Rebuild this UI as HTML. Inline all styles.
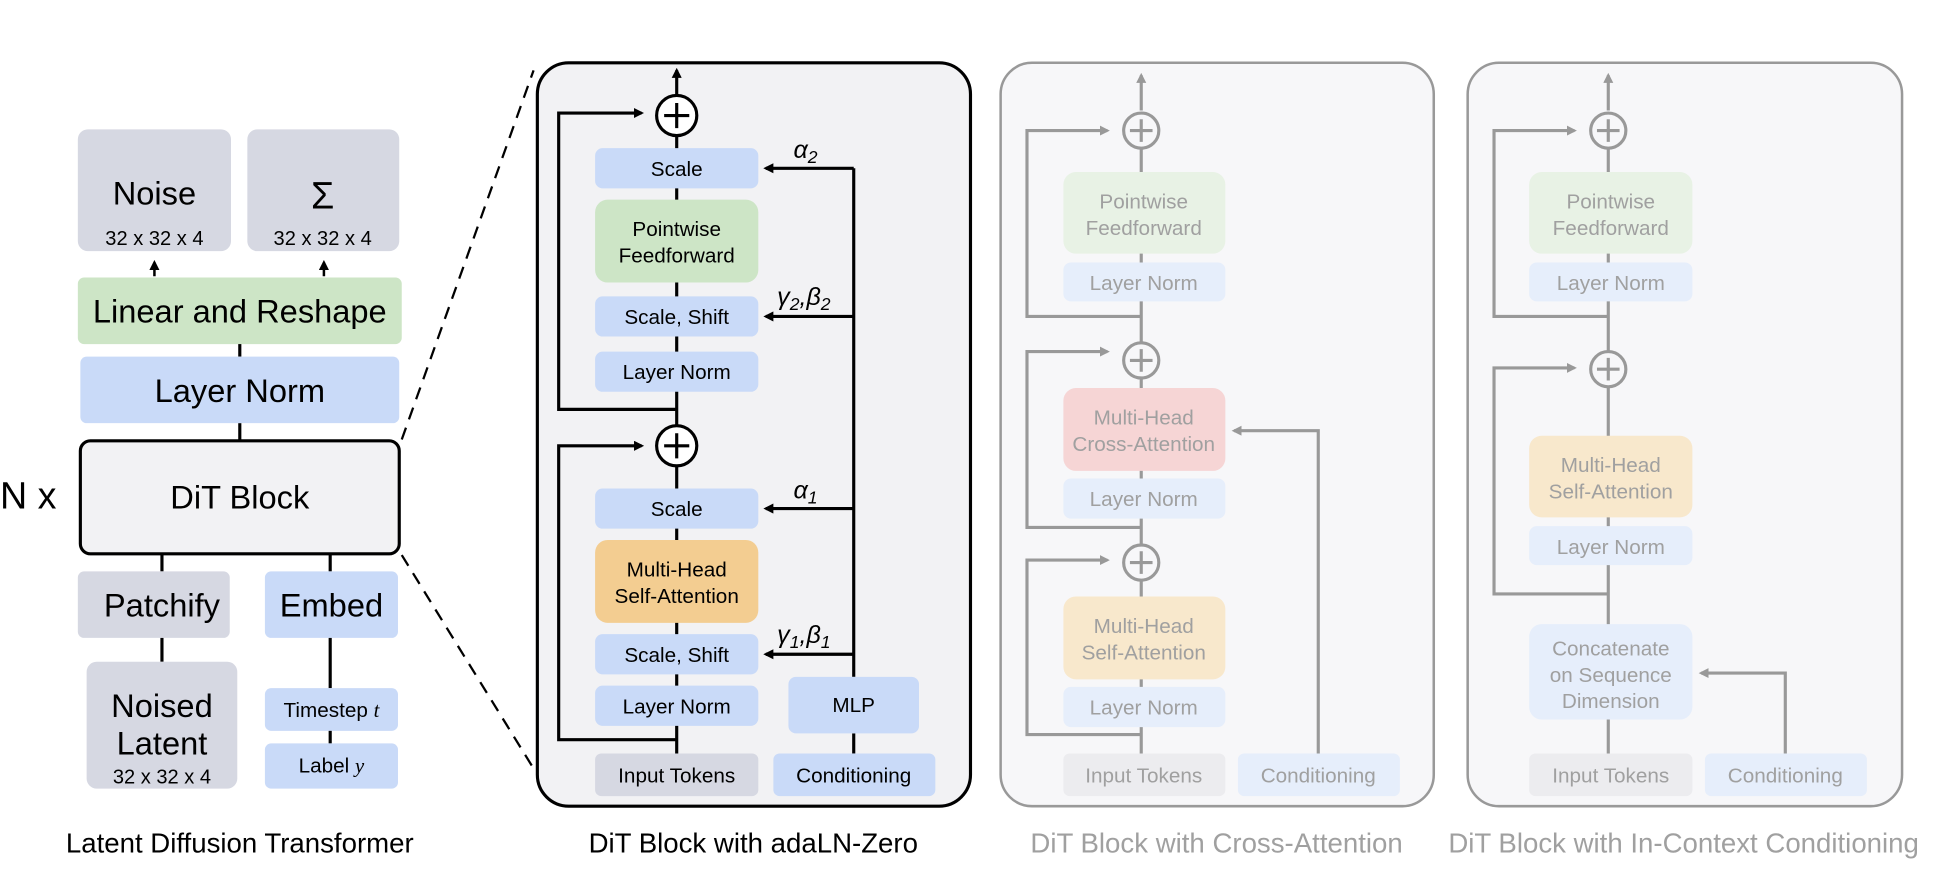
<!DOCTYPE html>
<html><head><meta charset="utf-8"><style>
html,body{margin:0;padding:0;background:#fff}
svg{display:block}
text{font-family:"Liberation Sans",sans-serif}
.g{font-family:"Liberation Serif",serif;font-style:italic}
</style></head><body>
<svg width="1946" height="874" viewBox="0 0 1550 696" preserveAspectRatio="none" xmlns="http://www.w3.org/2000/svg">
<defs>
<marker id="ab" markerWidth="8" markerHeight="8" refX="6" refY="4" orient="auto" markerUnits="userSpaceOnUse"><path d="M0,0 L8,4 L0,8 z" fill="#000"/></marker>
<marker id="ag" markerWidth="8" markerHeight="8" refX="6" refY="4" orient="auto" markerUnits="userSpaceOnUse"><path d="M0,0 L8,4 L0,8 z" fill="#999"/></marker>
</defs>

<!-- LEFT -->
<g text-anchor="middle" fill="#000">
<rect x="62" y="103" width="122" height="97" rx="8" fill="#d6d8e2"/>
<text x="123" y="163" font-size="26">Noise</text>
<text x="123" y="195" font-size="16">32 x 32 x 4</text>
<rect x="197" y="103" width="121" height="97" rx="8" fill="#d6d8e2"/>
<text x="257" y="166" font-size="30">Σ</text>
<text x="257" y="195" font-size="16">32 x 32 x 4</text>
<line x1="123" y1="220" x2="123" y2="209" stroke="#000" stroke-width="2" marker-end="url(#ab)"/>
<line x1="258" y1="220" x2="258" y2="209" stroke="#000" stroke-width="2" marker-end="url(#ab)"/>
<rect x="62" y="221" width="258" height="53" rx="5" fill="#cde5c6"/>
<text x="191" y="257" font-size="26">Linear and Reshape</text>
<line x1="191" y1="274" x2="191" y2="284" stroke="#000" stroke-width="2.5"/>
<rect x="64" y="284" width="254" height="53" rx="5" fill="#c9daf8"/>
<text x="191" y="320" font-size="26">Layer Norm</text>
<line x1="191" y1="337" x2="191" y2="351" stroke="#000" stroke-width="2.5"/>
<rect x="64" y="351" width="254" height="90" rx="8" fill="#f2f2f4" stroke="#000" stroke-width="2.5"/>
<text x="191" y="405" font-size="26">DiT Block</text>
<text x="0" y="405" font-size="30" text-anchor="start">N x</text>
<line x1="129" y1="441" x2="129" y2="455" stroke="#000" stroke-width="2.5"/>
<line x1="263" y1="441" x2="263" y2="455" stroke="#000" stroke-width="2.5"/>
<rect x="62" y="455" width="121" height="53" rx="5" fill="#d6d8e2"/>
<text x="129" y="491" font-size="26">Patchify</text>
<rect x="211" y="455" width="106" height="53" rx="5" fill="#c9daf8"/>
<text x="264" y="491" font-size="26">Embed</text>
<line x1="129" y1="508" x2="129" y2="527" stroke="#000" stroke-width="2.5"/>
<rect x="69" y="527" width="120" height="101" rx="8" fill="#d6d8e2"/>
<text x="129" y="571" font-size="26">Noised</text>
<text x="129" y="601" font-size="26">Latent</text>
<text x="129" y="624" font-size="16">32 x 32 x 4</text>
<line x1="263" y1="508" x2="263" y2="548" stroke="#000" stroke-width="2.5"/>
<rect x="211" y="548" width="106" height="34" rx="5" fill="#c9daf8"/>
<text x="264" y="571" font-size="16.5">Timestep <tspan class="g">t</tspan></text>
<line x1="263" y1="582" x2="263" y2="592" stroke="#000" stroke-width="2.5"/>
<rect x="211" y="592" width="106" height="36" rx="5" fill="#c9daf8"/>
<text x="264" y="615" font-size="16.5">Label <tspan class="g">y</tspan></text>
<text x="191" y="679" font-size="22">Latent Diffusion Transformer</text>
</g>
<line x1="320" y1="350" x2="425" y2="56" stroke="#000" stroke-width="1.8" stroke-dasharray="10,7"/>
<line x1="320" y1="442" x2="425" y2="612" stroke="#000" stroke-width="1.8" stroke-dasharray="10,7"/>

<!-- adaLN panel -->
<rect x="428" y="50" width="345" height="592" rx="25" fill="#f2f2f4" stroke="#000" stroke-width="2.5"/>
<g stroke="#000" stroke-width="2.5" fill="none">
<line x1="539" y1="76" x2="539" y2="56" marker-end="url(#ab)"/>
<line x1="539" y1="108" x2="539" y2="600"/>
<polyline points="539,326 445,326 445,90 511,90" marker-end="url(#ab)"/>
<polyline points="539,589 445,589 445,355 511,355" marker-end="url(#ab)"/>
<line x1="680" y1="539" x2="680" y2="134"/>
<line x1="680" y1="584" x2="680" y2="600"/>
<line x1="680" y1="134" x2="610" y2="134" marker-end="url(#ab)"/>
<line x1="680" y1="252" x2="610" y2="252" marker-end="url(#ab)"/>
<line x1="680" y1="405" x2="610" y2="405" marker-end="url(#ab)"/>
<line x1="680" y1="521" x2="610" y2="521" marker-end="url(#ab)"/>
</g>
<g text-anchor="middle" font-size="16.5" fill="#000">
<rect x="474" y="118" width="130" height="32" rx="6" fill="#c9daf8"/><text x="539" y="140">Scale</text>
<rect x="474" y="159" width="130" height="66" rx="10" fill="#cde5c6"/><text x="539" y="188">Pointwise</text><text x="539" y="209">Feedforward</text>
<rect x="474" y="236" width="130" height="32" rx="6" fill="#c9daf8"/><text x="539" y="258">Scale, Shift</text>
<rect x="474" y="280" width="130" height="32" rx="6" fill="#c9daf8"/><text x="539" y="302">Layer Norm</text>
<rect x="474" y="389" width="130" height="32" rx="6" fill="#c9daf8"/><text x="539" y="411">Scale</text>
<rect x="474" y="430" width="130" height="66" rx="10" fill="#f3cd91"/><text x="539" y="459">Multi-Head</text><text x="539" y="480">Self-Attention</text>
<rect x="474" y="505" width="130" height="32" rx="6" fill="#c9daf8"/><text x="539" y="527">Scale, Shift</text>
<rect x="474" y="546" width="130" height="32" rx="6" fill="#c9daf8"/><text x="539" y="568">Layer Norm</text>
<rect x="474" y="600" width="130" height="34" rx="5" fill="#d6d8e2"/><text x="539" y="623">Input Tokens</text>
<rect x="616" y="600" width="129" height="34" rx="5" fill="#c9daf8"/><text x="680" y="623">Conditioning</text>
<rect x="628" y="539" width="104" height="45" rx="6" fill="#c9daf8"/><text x="680" y="567">MLP</text>
<text x="600" y="679" font-size="22">DiT Block with adaLN-Zero</text>
</g>
<g stroke="#000" stroke-width="2.5" fill="#fff">
<circle cx="539" cy="92" r="16"/><circle cx="539" cy="355" r="16"/>
<path d="M529,92 H549 M539,82 V102 M529,355 H549 M539,345 V365" fill="none"/>
</g>
<g class="g" font-size="20" fill="#000">
<text x="632" y="126">α<tspan font-size="14" dy="4">2</tspan></text>
<text x="619" y="243">γ<tspan font-size="14" dy="4">2</tspan><tspan dy="-4">,β</tspan><tspan font-size="14" dy="4">2</tspan></text>
<text x="632" y="397">α<tspan font-size="14" dy="4">1</tspan></text>
<text x="619" y="512">γ<tspan font-size="14" dy="4">1</tspan><tspan dy="-4">,β</tspan><tspan font-size="14" dy="4">1</tspan></text>
</g>

<!-- Cross-attention panel -->
<rect x="797" y="50" width="345" height="592" rx="25" fill="#f7f7f9" stroke="#999" stroke-width="2"/>
<g stroke="#999" stroke-width="2.5" fill="none">
<line x1="909" y1="88" x2="909" y2="60" marker-end="url(#ag)"/>
<line x1="909" y1="118" x2="909" y2="600"/>
<polyline points="909,252 818,252 818,104 882,104" marker-end="url(#ag)"/>
<polyline points="909,420 818,420 818,280 882,280" marker-end="url(#ag)"/>
<polyline points="909,585 818,585 818,446 882,446" marker-end="url(#ag)"/>
<polyline points="1050,600 1050,343 983,343" marker-end="url(#ag)"/>
</g>
<g text-anchor="middle" font-size="16.5" fill="#a0a0a0">
<rect x="847" y="137" width="129" height="65" rx="10" fill="#e8f2e5"/><text x="911" y="166">Pointwise</text><text x="911" y="187">Feedforward</text>
<rect x="847" y="209" width="129" height="31" rx="6" fill="#e6eefb"/><text x="911" y="231">Layer Norm</text>
<rect x="847" y="309" width="129" height="66" rx="10" fill="#f6d5d5"/><text x="911" y="338">Multi-Head</text><text x="911" y="359">Cross-Attention</text>
<rect x="847" y="381" width="129" height="32" rx="6" fill="#e6eefb"/><text x="911" y="403">Layer Norm</text>
<rect x="847" y="475" width="129" height="66" rx="10" fill="#f8e8cc"/><text x="911" y="504">Multi-Head</text><text x="911" y="525">Self-Attention</text>
<rect x="847" y="547" width="129" height="32" rx="6" fill="#e6eefb"/><text x="911" y="569">Layer Norm</text>
<rect x="847" y="600" width="129" height="34" rx="5" fill="#ececef"/><text x="911" y="623">Input Tokens</text>
<rect x="986" y="600" width="129" height="34" rx="5" fill="#e6eefb"/><text x="1050" y="623">Conditioning</text>
<text x="969" y="679" font-size="22">DiT Block with Cross-Attention</text>
</g>
<g stroke="#999" stroke-width="2.5" fill="#f7f7f9">
<circle cx="909" cy="104" r="14"/><circle cx="909" cy="287" r="14"/><circle cx="909" cy="448" r="14"/>
<path d="M900,104 H918 M909,95 V113 M900,287 H918 M909,278 V296 M900,448 H918 M909,439 V457" fill="none"/>
</g>

<!-- In-context panel -->
<rect x="1169" y="50" width="346" height="592" rx="25" fill="#f7f7f9" stroke="#999" stroke-width="2"/>
<g stroke="#999" stroke-width="2.5" fill="none">
<line x1="1281" y1="88" x2="1281" y2="60" marker-end="url(#ag)"/>
<line x1="1281" y1="118" x2="1281" y2="600"/>
<polyline points="1281,252 1190,252 1190,104 1254,104" marker-end="url(#ag)"/>
<polyline points="1281,473 1190,473 1190,293 1254,293" marker-end="url(#ag)"/>
<polyline points="1422,600 1422,536 1355,536" marker-end="url(#ag)"/>
</g>
<g text-anchor="middle" font-size="16.5" fill="#a0a0a0">
<rect x="1218" y="137" width="130" height="65" rx="10" fill="#e8f2e5"/><text x="1283" y="166">Pointwise</text><text x="1283" y="187">Feedforward</text>
<rect x="1218" y="209" width="130" height="31" rx="6" fill="#e6eefb"/><text x="1283" y="231">Layer Norm</text>
<rect x="1218" y="347" width="130" height="65" rx="10" fill="#f8e8cc"/><text x="1283" y="376">Multi-Head</text><text x="1283" y="397">Self-Attention</text>
<rect x="1218" y="419" width="130" height="31" rx="6" fill="#e6eefb"/><text x="1283" y="441">Layer Norm</text>
<rect x="1218" y="497" width="130" height="76" rx="10" fill="#e6eefb"/><text x="1283" y="522">Concatenate</text><text x="1283" y="543">on Sequence</text><text x="1283" y="564">Dimension</text>
<rect x="1218" y="600" width="130" height="34" rx="5" fill="#ececef"/><text x="1283" y="623">Input Tokens</text>
<rect x="1358" y="600" width="129" height="34" rx="5" fill="#e6eefb"/><text x="1422" y="623">Conditioning</text>
<text x="1341" y="679" font-size="22">DiT Block with In-Context Conditioning</text>
</g>
<g stroke="#999" stroke-width="2.5" fill="#f7f7f9">
<circle cx="1281" cy="104" r="14"/><circle cx="1281" cy="294" r="14"/>
<path d="M1272,104 H1290 M1281,95 V113 M1272,294 H1290 M1281,285 V303" fill="none"/>
</g>
</svg>
</body></html>
